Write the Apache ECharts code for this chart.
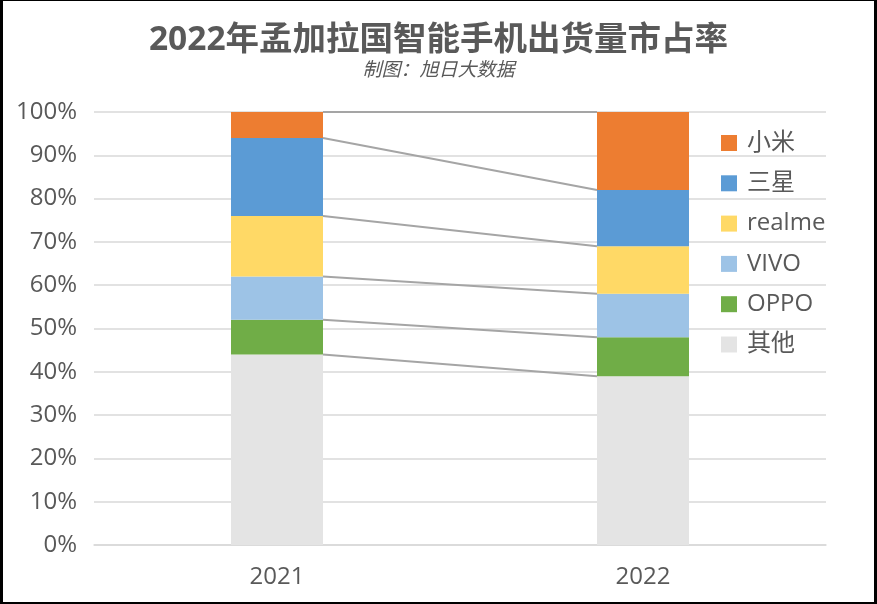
<!DOCTYPE html>
<html>
<head>
<meta charset="utf-8">
<script src="https://cdn.jsdelivr.net/npm/echarts@6/dist/echarts.min.js"></script>
<style>
  html, body { margin: 0; padding: 0; background: #fff; }
  #wrap { position: relative; width: 877px; height: 604px; }
  #chart { width: 877px; height: 604px; }
  #frame {
    position: absolute; left: 0; top: 0; width: 877px; height: 604px;
    box-sizing: border-box; border-style: solid; border-color: #000;
    border-width: 1px 3px 2px 3px; pointer-events: none;
  }
</style>
</head>
<body>
<div id="wrap">
  <div id="chart"></div>
  <div id="frame"></div>
</div>
<script>
// 数据
const years = ['2021', '2022'];
const brands = ['其他', 'OPPO', 'VIVO', 'realme', '三星', '小米'];
const other = [44, 39];
const oppo = [8, 9];
const vivo = [10, 10];
const realme = [14, 11];
const samsung = [18, 13];
const xiaomi = [6, 18];
const yTicks = [0, 10, 20, 30, 40, 50, 60, 70, 80, 90, 100];

const seriesValues = [other, oppo, vivo, realme, samsung, xiaomi];
const colors = ['#E4E4E4', '#70AD47', '#9DC3E6', '#FFD966', '#5B9BD5', '#ED7D31'];
const font = "'Open Sans', 'Noto Sans CJK SC', sans-serif";
const textColor = '#595959';
const barW = 92;

// 每层累计高度 -> 连接线
const levels = [];
let acc = [0, 0];
seriesValues.forEach(vals => {
  acc = [acc[0] + vals[0], acc[1] + vals[1]];
  levels.push([acc[0], acc[1]]);
});

const chart = echarts.init(document.getElementById('chart'));

const barSeries = brands.map((name, i) => ({
  name: name,
  type: 'bar',
  stack: 'total',
  barWidth: barW,
  itemStyle: { color: colors[i] },
  data: seriesValues[i],
  z: 2
}));

chart.setOption({
  animation: false,
  textStyle: { fontFamily: font },
  title: {
    text: '2022年孟加拉国智能手机出货量市占率',
    subtext: '制图：旭日大数据',
    left: 'center',
    top: 19,
    itemGap: 4,
    textStyle: { fontSize: 33.5, fontWeight: 'bold', color: textColor, fontFamily: font },
    subtextStyle: { fontSize: 19, fontStyle: 'italic', color: textColor, fontFamily: font }
  },
  legend: {
    data: brands.slice().reverse(),
    orient: 'vertical',
    left: 721,
    top: 131,
    padding: 0,
    icon: 'rect',
    itemWidth: 16,
    itemHeight: 16,
    itemGap: 16.3,
    textStyle: { fontSize: 24, color: textColor, fontFamily: font, padding: [0, 0, 0, 5] }
  },
  grid: { left: 94, right: 51, top: 112, bottom: 59 },
  xAxis: {
    type: 'category',
    data: years,
    axisLine: { lineStyle: { color: '#D9D9D9', width: 1.5 } },
    axisTick: { show: false },
    axisLabel: { fontSize: 24, color: textColor, margin: 20 }
  },
  yAxis: {
    type: 'value',
    min: yTicks[0],
    max: yTicks[yTicks.length - 1],
    interval: yTicks[1] - yTicks[0],
    axisLine: { show: false },
    axisTick: { show: false },
    axisLabel: { fontSize: 24, color: textColor, margin: 17, formatter: '{value}%' },
    splitLine: { lineStyle: { color: '#D9D9D9', width: 1.5 } }
  },
  series: barSeries.concat([{
    type: 'custom',
    name: 'connector',
    data: levels,
    z: 3,
    silent: true,
    encode: { x: -1, y: [0, 1] },
    renderItem: function (params, api) {
      const p1 = api.coord([0, api.value(0)]);
      const p2 = api.coord([1, api.value(1)]);
      return {
        type: 'line',
        shape: { x1: p1[0] + barW / 2, y1: p1[1], x2: p2[0] - barW / 2, y2: p2[1] },
        style: { stroke: '#A5A5A5', lineWidth: 2 }
      };
    }
  }])
});
</script>
</body>
</html>
